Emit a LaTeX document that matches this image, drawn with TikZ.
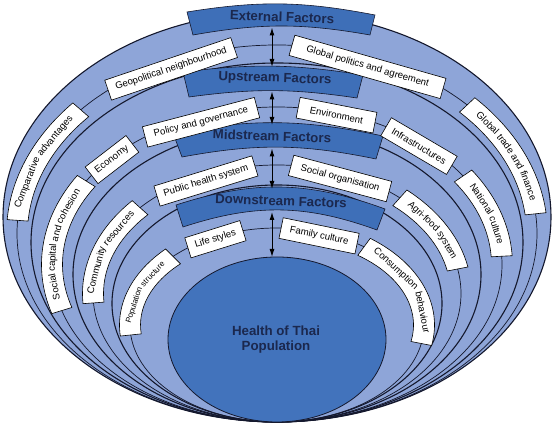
\documentclass[tikz,border=0pt]{standalone}
\usepackage{fontspec}
\setmainfont{Liberation Sans}
\usepackage{tikz}
\usetikzlibrary{arrows.meta,calc,decorations.markings}
\definecolor{ringblue}{RGB}{142,165,216}
\definecolor{bandblue}{RGB}{62,111,184}
\definecolor{coreblue}{RGB}{66,115,188}
\definecolor{navy}{RGB}{27,40,78}
\definecolor{rimline}{RGB}{20,24,45}

\newcommand{\lblfont}{\fontsize{9.6}{11}\selectfont}
\newcommand{\smlfont}{\fontsize{8}{9}\selectfont}

\tikzset{
  rim/.style={draw=rimline, line width=1.1pt},
  track/.style={draw=rimline, line width=0.7pt},
  band/.style={fill=bandblue, draw=rimline, line width=0.6pt},
  lblbox/.style={fill=white, draw=black, line width=0.6pt},
  lblnode/.style={lblbox, font=\lblfont, minimum height=21pt, inner sep=0pt},
  wordtxt/.style={inner sep=0pt, anchor=base, yshift=-3.3pt, transform shape},
  headtxt/.style={font=\bfseries\fontsize{13.3}{15}\selectfont, text=navy},
  updown/.style={{Latex[length=8pt,width=5pt]}-{Latex[length=8pt,width=5pt]}, line width=1pt, black},
}

% straight box on a chord of a track: #1 name, #2 centre y, #3 x radius, #4 y radius, #5/#6 angles, #7 text
\newcommand{\chordlabel}[7]{%
  \pgfmathsetmacro\lbXa{277+#3*cos(#5)}\pgfmathsetmacro\lbYa{#2+#4*sin(#5)}%
  \pgfmathsetmacro\lbXb{277+#3*cos(#6)}\pgfmathsetmacro\lbYb{#2+#4*sin(#6)}%
  \pgfmathsetmacro\lbLen{veclen(\lbXb-\lbXa,\lbYb-\lbYa)}%
  \pgfmathsetmacro\lbAng{atan2(\lbYb-\lbYa,\lbXb-\lbXa)}%
  \pgfmathsetmacro\lbXm{(\lbXa+\lbXb)/2}\pgfmathsetmacro\lbYm{(\lbYa+\lbYb)/2}%
  \node[lblnode, minimum width=\lbLen pt, rotate=\lbAng] (#1) at (\lbXm,\lbYm) {#7};
}

% curved box along a track, words set along the arc (offset from its middle/word)
\newcommand{\arclabel}[8][\lblfont]{%
  \pgfmathsetmacro\lbRa{#4+10.5}\pgfmathsetmacro\lbRb{#5+10.5}%
  \pgfmathsetmacro\lbRc{#4-10.5}\pgfmathsetmacro\lbRd{#5-10.5}%
  \pgfmathsetmacro\lbXa{277+\lbRa*cos(#6)}\pgfmathsetmacro\lbYa{#3+\lbRb*sin(#6)}%
  \pgfmathsetmacro\lbXb{277+\lbRc*cos(#7)}\pgfmathsetmacro\lbYb{#3+\lbRd*sin(#7)}%
  \pgfmathsetmacro\lbXc{277+#4*cos(#6)}\pgfmathsetmacro\lbYc{#3+#5*sin(#6)}%
  \filldraw[lblbox] (\lbXa,\lbYa) arc[start angle=#6, end angle=#7, x radius=\lbRa, y radius=\lbRb]
    -- (\lbXb,\lbYb) arc[start angle=#7, end angle=#6, x radius=\lbRc, y radius=\lbRd] -- cycle;
  \foreach \lbOff/\lbWord [count=\lbI] in {#8} {
    \path[decoration={markings, mark=at position {0.5*\pgfdecoratedpathlength+(\lbOff pt)} with
      {\node[wordtxt, font=#1] (#2-\lbI) {\lbWord};}}, decorate]
      (\lbXc,\lbYc) arc[start angle=#6, end angle=#7, x radius=#4, y radius=#5];
  }
}

\begin{document}
\begin{tikzpicture}[x=1pt, y=1pt]
  \useasboundingbox (0,0) rectangle (555,427);

  \fill[ringblue] (277,210) ellipse[x radius=274, y radius=205];
  \draw[rim] (277,210) ellipse[x radius=274, y radius=205];
  \draw[track] (277,193.5) ellipse[x radius=260, y radius=188.5];
  \draw[rim] (277,184.5) ellipse[x radius=246, y radius=179.5];
  \draw[track] (277,162.5) ellipse[x radius=225, y radius=157.5];
  \draw[rim] (277,152.5) ellipse[x radius=204, y radius=147.5];
  \draw[track] (277,133.5) ellipse[x radius=184, y radius=128.5];
  \draw[rim] (277,123.5) ellipse[x radius=165, y radius=118.5];
  \draw[track] (277,102) ellipse[x radius=147, y radius=97];

  \filldraw[band] (187,415) to[bend left=10] (375,412) -- (370,392) to[bend right=10] (193,392) -- cycle;
  \filldraw[band] (183,355) to[bend left=8] (363,352) -- (357,329) to[bend right=8] (189,330) -- cycle;
  \filldraw[band] (173,294) to[bend left=11] (383,291) -- (376,268) to[bend right=11] (182,270) -- cycle;
  \filldraw[band] (176,222) to[bend left=19] (385,218) -- (377,197) to[bend right=19] (183,200) -- cycle;

  % external
  \chordlabel{geo}{193.5}{260}{188.5}{130.5}{99.5}{Geopolitical neighbourhood}
  \chordlabel{glpol}{193.5}{260}{188.5}{86.7}{50.3}{Global politics and agreement}
  \arclabel{comp}{193.5}{260}{188.5}{176}{139}{-26.1/Comparative, 28.5/advantages}
  \arclabel{gltrade}{193.5}{260}{188.5}{43}{6}{-38.4/Global, -11.0/trade, 10.6/and, 36.8/finance}
  % upstream
  \chordlabel{policy}{162.5}{225}{157.5}{125.9}{95.1}{Policy and governance}
  \chordlabel{env}{162.5}{225}{157.5}{84.6}{64.2}{Environment}
  \chordlabel{eco}{162.5}{225}{157.5}{145.5}{130}{Economy}
  \chordlabel{infra}{162.5}{225}{157.5}{61}{39}{Infrastructures}
  \arclabel{soccap}{162.5}{225}{157.5}{197}{148}{-45.0/Social, -15.5/capital, 9.0/and, 38.9/cohesion}
  \arclabel{natcult}{162.5}{225}{157.5}{34.2}{3}{-15.7/National, 19.0/culture}
  % midstream
  \chordlabel{phs}{133.5}{184}{128.5}{130.7}{96.9}{Public health system}
  \chordlabel{socorg}{133.5}{184}{128.5}{85.6}{52.5}{Social organisation}
  \arclabel{commres}{133.5}{184}{128.5}{184.2}{138.1}{-22.4/Community, 25.6/resources}
  \arclabel{agri}{133.5}{184}{128.5}{48.1}{11}{-16.5/Agri-food, 20.8/system}
  % downstream
  \chordlabel{life}{102}{147}{97}{127.3}{103.4}{Life styles}
  \chordlabel{family}{102}{147}{97}{88.4}{57}{Family culture}
  \arclabel[\smlfont]{popstr}{102}{147}{97}{185.9}{135}{-16.7/Population, 20.0/structure}
  \arclabel{cons}{102}{147}{97}{53.7}{-11}{-22.4/Consumption, 29.7/behaviour}

  \filldraw[fill=coreblue, draw=rimline, line width=0.8pt] (277,87.5) ellipse[x radius=109, y radius=82.5];

  \node[headtxt, rotate=-2] (ext) at (282,410) {External Factors};
  \node[headtxt, rotate=-2] (up) at (275,348) {Upstream Factors};
  \node[headtxt, rotate=-2] (mid) at (272,291) {Midstream Factors};
  \node[headtxt, rotate=-2] (down) at (281,226) {Downstream Factors};
  \node[headtxt, align=center] (health) at (276,87) {Health of Thai\\Population};

  \coordinate (extB) at (272,399.5);
  \coordinate (upT) at (272,360);
  \coordinate (upB) at (272,335.5);
  \coordinate (midT) at (272,302);
  \coordinate (midB) at (272,278.5);
  \coordinate (downT) at (272,238);
  \coordinate (downB) at (272,215);
  \coordinate (coreT) at (272,170);
  \draw[updown] (extB) -- (upT);
  \draw[updown] (upB) -- (midT);
  \draw[updown] (midB) -- (downT);
  \draw[updown] (downB) -- (coreT);
\end{tikzpicture}
\end{document}
